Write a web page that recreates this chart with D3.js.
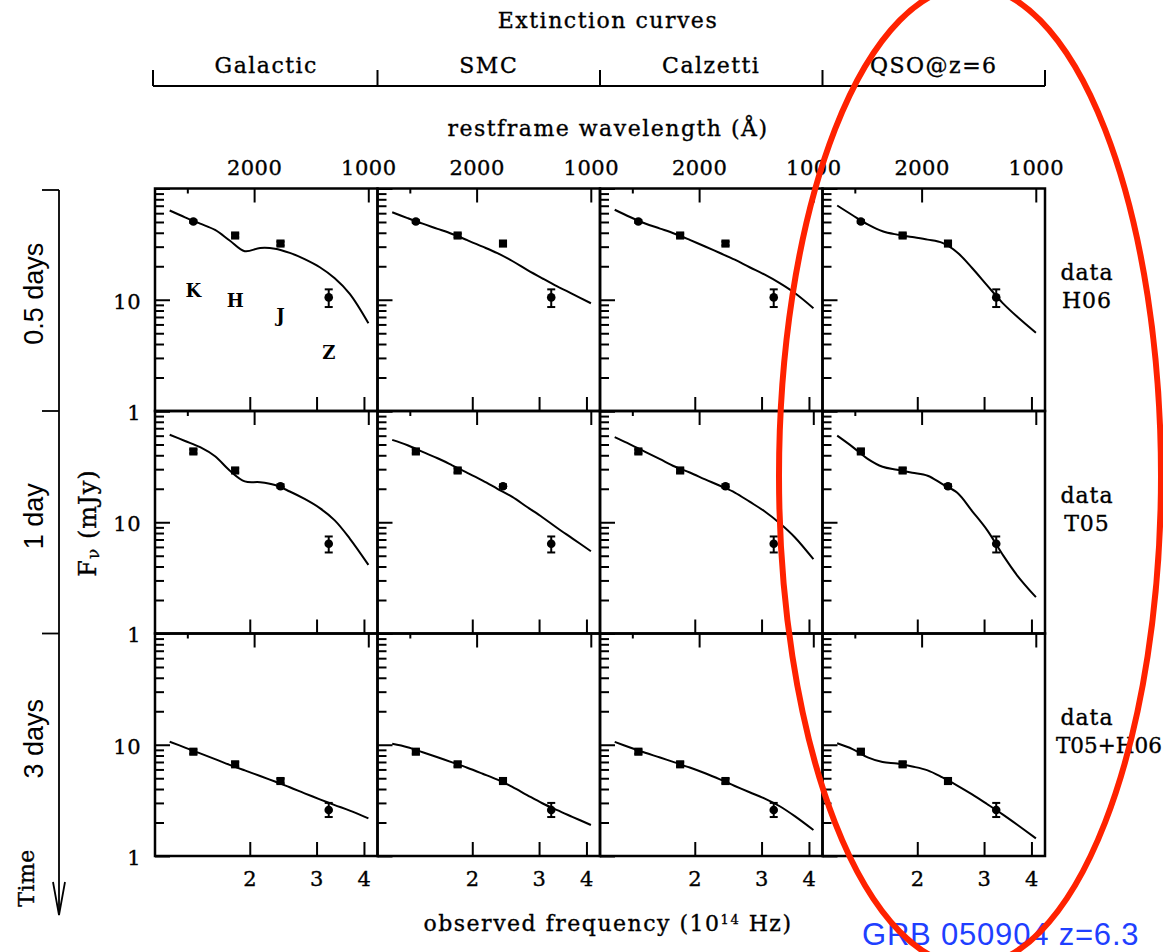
<!DOCTYPE html>
<html><head><meta charset="utf-8">
<script src="https://cdn.jsdelivr.net/npm/d3@7"></script>
<style>body{margin:0;background:#fff}svg{display:block}</style>
</head><body>
<svg id="chart" width="1163" height="952"></svg>
<script>
// ---------------- data ----------------
const extinctionLaws = ["Galactic", "SMC", "Calzetti", "QSO@z=6"];
const epochs = ["0.5 days", "1 day", "3 days"];
const dataSetLabels = [["data", "H06"], ["data", "T05"], ["data", "T05+H06"]];
const redshift = 6.3;

const bands = ["K", "H", "J", "Z"];
const bandFreq = [1.42, 1.83, 2.41, 3.23];           // 10^14 Hz
const bandLabelFlux = [10.6, 8.6, 6.3, 2.93];        // where the band letters sit (0.5 d, Galactic)

const obsFlux_05d = [50.5, 37.8, 32.0, 10.5];
const obsLo_05d   = [49.0, 36.4, 30.8, 8.6];
const obsHi_05d   = [52.0, 39.3, 33.3, 12.4];
const obsShape_05d = ["circle", "square", "square", "circle"];

const obsFlux_1d = [43.3, 29.2, 21.1, 6.40];
const obsLo_1d   = [41.6, 28.0, 20.4, 5.35];
const obsHi_1d   = [45.1, 30.5, 21.9, 7.45];
const obsShape_1d = ["square", "square", "circle", "circle"];

const obsFlux_3d = [8.66, 6.67, 4.72, 2.59];
const obsLo_3d   = [8.30, 6.38, 4.50, 2.24];
const obsHi_3d   = [9.05, 6.98, 4.96, 3.00];
const obsShape_3d = ["square", "square", "square", "circle"];

// model curves: flux (mJy) at modelFreq (10^14 Hz)
const modelFreq = [1.23, 1.35, 1.48, 1.62, 1.77, 1.94, 2.13, 2.33, 2.55, 2.79, 3.06, 3.35, 3.67, 4.11];

const model_05d_Galactic = [63.4, 55.1, 48.3, 42.4, 34.1, 27.3, 29.2, 28.8, 26.4, 23.2, 19.6, 15.6, 11.3, 6.15];
const model_05d_SMC      = [61.1, 54.2, 48.3, 43.4, 39.0, 34.3, 30.0, 26.2, 22.3, 18.6, 15.6, 13.2, 11.3, 9.3];
const model_05d_Calzetti = [64.4, 55.4, 48.5, 43.6, 39.2, 34.5, 30.1, 26.3, 22.9, 19.6, 16.8, 14.1, 11.5, 8.4];
const model_05d_QSO      = [70.3, 57.5, 47.6, 41.3, 38.5, 36.6, 34.7, 32.4, 26.6, 19.3, 13.4, 9.43, 7.03, 5.05];

const model_1d_Galactic  = [61.1, 53.8, 47.3, 39.2, 29.2, 23.3, 22.9, 21.6, 18.9, 16.2, 13.4, 10.4, 7.14, 4.14];
const model_1d_SMC       = [55.0, 49.2, 42.9, 37.6, 32.5, 27.8, 23.7, 20.0, 16.9, 13.7, 11.1, 8.88, 7.17, 5.49];
const model_1d_Calzetti  = [58.2, 50.2, 43.0, 36.9, 31.7, 28.0, 24.3, 21.3, 18.5, 15.3, 12.5, 9.80, 7.34, 4.65];
const model_1d_QSO       = [60.0, 47.6, 37.1, 31.5, 29.6, 27.9, 26.2, 22.0, 18.4, 12.6, 8.45, 5.18, 3.32, 2.12];

const model_3d_Galactic  = [10.65, 9.43, 8.36, 7.43, 6.60, 5.88, 5.24, 4.67, 4.15, 3.66, 3.23, 2.87, 2.56, 2.18];
const model_3d_SMC       = [10.2, 9.51, 8.57, 7.71, 6.94, 6.21, 5.49, 4.86, 4.18, 3.53, 2.98, 2.58, 2.25, 1.90];
const model_3d_Calzetti  = [10.6, 9.45, 8.48, 7.68, 6.94, 6.24, 5.54, 4.88, 4.26, 3.74, 3.28, 2.80, 2.28, 1.71];
const model_3d_QSO       = [10.3, 9.14, 7.71, 7.00, 6.77, 6.38, 5.89, 5.09, 4.30, 3.58, 2.92, 2.38, 1.91, 1.44];

// axes
const freqDomain = [1.125, 4.343];
const fluxDomain = [1, 100];
const freqTicks = [2, 3, 4];
const lambdaMajorTicks = [2000, 1000];
const lambdaMinorTicks = [3000];
const fluxMajorTicks = [1, 10, 100];
const fluxMinorTicks = [2, 3, 4, 5, 6, 7, 8, 9, 20, 30, 40, 50, 60, 70, 80, 90];
const fluxTickLabels = [1, 10];

// ---------------- assemble ----------------
const obsRows = [
  {flux: obsFlux_05d, lo: obsLo_05d, hi: obsHi_05d, shape: obsShape_05d},
  {flux: obsFlux_1d,  lo: obsLo_1d,  hi: obsHi_1d,  shape: obsShape_1d},
  {flux: obsFlux_3d,  lo: obsLo_3d,  hi: obsHi_3d,  shape: obsShape_3d}
];
const models = [
  [model_05d_Galactic, model_05d_SMC, model_05d_Calzetti, model_05d_QSO],
  [model_1d_Galactic,  model_1d_SMC,  model_1d_Calzetti,  model_1d_QSO],
  [model_3d_Galactic,  model_3d_SMC,  model_3d_Calzetti,  model_3d_QSO]
];

const SERIF = "'DejaVu Serif', serif";
const SANS = "'Liberation Sans', Arial, sans-serif";
const svg = d3.select("#chart");

const colBand = d3.scaleBand().domain(extinctionLaws).range([155, 1045]);
const rowBand = d3.scaleBand().domain(epochs).range([188.5, 856]);
const restLambda = f => 2.99792458e4 / (f * (1 + redshift)); // Angstrom, f in 1e14 Hz

function serifText(sel, size, spacing) {
  return sel.attr("font-family", SERIF).attr("font-size", size)
    .attr("letter-spacing", spacing).attr("fill", "#000")
    .attr("stroke", "#000").attr("stroke-width", 0.35);
}

function styleAxis(g, sw) {
  g.select(".domain").remove();
  g.selectAll(".tick line").attr("stroke", "#000").attr("stroke-width", sw);
  serifText(g.selectAll("text"), 21, 0.5);
}

epochs.forEach((ep, r) => {
  extinctionLaws.forEach((law, c) => {
    const L = colBand(law), W = colBand.bandwidth();
    const T = rowBand(ep), H = rowBand.bandwidth();
    const x = d3.scaleLog().domain(freqDomain).range([L, L + W]);
    const y = d3.scaleLog().domain(fluxDomain).range([T + H, T]);
    const xl = d3.scaleLog().domain(freqDomain.map(restLambda)).range([L, L + W]);
    const g = svg.append("g");

    // left ticks (inward)
    g.append("g").attr("transform", `translate(${L},0)`)
      .call(d3.axisRight(y).tickValues(fluxMinorTicks).tickSize(9).tickFormat(""))
      .call(a => styleAxis(a, 2));
    g.append("g").attr("transform", `translate(${L},0)`)
      .call(d3.axisRight(y).tickValues(fluxMajorTicks).tickSize(15).tickFormat(""))
      .call(a => styleAxis(a, 2));
    // bottom frequency ticks (inward)
    g.append("g").attr("transform", `translate(0,${T + H})`)
      .call(d3.axisTop(x).tickValues(freqTicks).tickSize(14).tickFormat(""))
      .call(a => styleAxis(a, 2));
    // top wavelength ticks (inward)
    g.append("g").attr("transform", `translate(0,${T})`)
      .call(d3.axisBottom(xl).tickValues(lambdaMajorTicks).tickSize(14).tickFormat(""))
      .call(a => styleAxis(a, 2));
    g.append("g").attr("transform", `translate(0,${T})`)
      .call(d3.axisBottom(xl).tickValues(lambdaMinorTicks).tickSize(5).tickFormat(""))
      .call(a => styleAxis(a, 2));

    // labels
    if (c === 0) {
      g.append("g").attr("transform", `translate(${L},0)`)
        .call(d3.axisLeft(y).tickValues(fluxTickLabels).tickSize(0).tickPadding(14).tickFormat(d3.format("d")))
        .call(a => styleAxis(a, 2))
        .selectAll("text").attr("dy", "0.4em");
    }
    if (r === 0) {
      g.append("g").attr("transform", `translate(0,${T})`)
        .call(d3.axisTop(xl).tickValues(lambdaMajorTicks).tickSize(0).tickPadding(14).tickFormat(d3.format("d")))
        .call(a => styleAxis(a, 2));
    }
    if (r === epochs.length - 1) {
      g.append("g").attr("transform", `translate(0,${T + H})`)
        .call(d3.axisBottom(x).tickValues(freqTicks).tickSize(0).tickPadding(15).tickFormat(d3.format("d")))
        .call(a => styleAxis(a, 2));
    }

    // model curve
    const pts = modelFreq.map((f, i) => [f, models[r][c][i]]);
    g.append("path").datum(pts)
      .attr("d", d3.line().x(d => x(d[0])).y(d => y(d[1])).curve(d3.curveCatmullRom.alpha(0.5)))
      .attr("fill", "none").attr("stroke", "#000").attr("stroke-width", 2);

    // observed points
    const o = obsRows[r];
    bandFreq.forEach((f, i) => {
      const cx = x(f);
      g.append("line").attr("x1", cx).attr("x2", cx).attr("y1", y(o.lo[i])).attr("y2", y(o.hi[i]))
        .attr("stroke", "#000").attr("stroke-width", 2);
      [o.lo[i], o.hi[i]].forEach(v => g.append("line")
        .attr("x1", cx - 4).attr("x2", cx + 4).attr("y1", y(v)).attr("y2", y(v))
        .attr("stroke", "#000").attr("stroke-width", 2));
      const sym = o.shape[i] === "circle" ? d3.symbolCircle : d3.symbolSquare;
      const size = o.shape[i] === "circle" ? 58 : 66;
      g.append("path").attr("d", d3.symbol(sym, size)())
        .attr("transform", `translate(${cx},${y(o.flux[i])})`).attr("fill", "#000");
    });

    // band letters in the first panel
    if (r === 0 && c === 0) {
      bands.forEach((b, i) => g.append("text").attr("x", x(bandFreq[i])).attr("y", y(bandLabelFlux[i]))
        .attr("text-anchor", "middle").attr("font-family", SERIF).attr("font-size", 18)
        .attr("font-weight", "bold").text(b));
    }

    // frame
    g.append("rect").attr("x", L).attr("y", T).attr("width", W).attr("height", H)
      .attr("fill", "none").attr("stroke", "#000").attr("stroke-width", 2.5);
  });

  // right-hand data-set labels
  const T = rowBand(ep);
  const lbl = dataSetLabels[r];
  serifText(svg.append("text").attr("x", 1087).attr("y", T + 91.5).attr("text-anchor", "middle"), 22, 1).text(lbl[0]);
  const second = serifText(svg.append("text").attr("y", T + 119.5), 22, 1).text(lbl[1]);
  if (lbl[1].length > 4) second.attr("x", 1056).attr("text-anchor", "start").attr("letter-spacing", 0).attr("font-size", 21.5);
  else second.attr("x", 1087).attr("text-anchor", "middle");

  // left epoch labels
  const cy = T + rowBand.bandwidth() / 2 - 6;
  svg.append("text").attr("transform", `translate(34,${cy}) rotate(-90)`)
    .attr("text-anchor", "middle").attr("dominant-baseline", "central")
    .attr("font-family", SANS).attr("font-size", 27).text(ep);
});

// time axis
const timeG = svg.append("g").attr("stroke", "#000").attr("stroke-width", 1.8).attr("fill", "none");
timeG.append("line").attr("x1", 59).attr("x2", 59).attr("y1", 190).attr("y2", 915);
epochs.forEach(ep => timeG.append("line").attr("x1", 42).attr("x2", 59)
  .attr("y1", Math.max(190, rowBand(ep))).attr("y2", Math.max(190, rowBand(ep))));
timeG.append("path").attr("d", "M53,882 L59,915 L65,882");
serifText(svg.append("text").attr("transform", "translate(26,878) rotate(-90)")
  .attr("text-anchor", "middle").attr("dominant-baseline", "central"), 22, 0.5).text("Time");

// y title
const yt = serifText(svg.append("text").attr("transform", "translate(88,523) rotate(-90)")
  .attr("text-anchor", "middle").attr("dominant-baseline", "central"), 24, 1);
yt.append("tspan").text("F");
yt.append("tspan").attr("baseline-shift", "-30%").attr("font-size", 17).text("ν");
yt.append("tspan").text(" (mJy)");

// header
serifText(svg.append("text").attr("x", 608).attr("y", 28).attr("text-anchor", "middle"), 22, 1.5).text("Extinction curves");
const bracket = svg.append("g").attr("stroke", "#000").attr("stroke-width", 2).attr("fill", "none");
bracket.append("line").attr("x1", 153).attr("x2", 1045).attr("y1", 86).attr("y2", 86);
extinctionLaws.forEach(law => {
  const x0 = colBand(law) === 155 ? 153 : colBand(law);
  bracket.append("line").attr("x1", x0).attr("x2", x0).attr("y1", 70).attr("y2", 86);
  serifText(svg.append("text").attr("x", colBand(law) + colBand.bandwidth() / 2).attr("y", 73)
    .attr("text-anchor", "middle"), 22, 1.5).text(law);
});
bracket.append("line").attr("x1", 1045).attr("x2", 1045).attr("y1", 70).attr("y2", 86);

serifText(svg.append("text").attr("x", 608).attr("y", 136).attr("text-anchor", "middle"), 22, 1.5)
  .text("restframe wavelength (Å)");

// x title
const xt = serifText(svg.append("text").attr("x", 608).attr("y", 931).attr("text-anchor", "middle"), 22, 1.5);
xt.append("tspan").text("observed frequency (10");
xt.append("tspan").attr("baseline-shift", "super").attr("font-size", 13).text("14");
xt.append("tspan").text(" Hz)");

// annotation
svg.append("text").attr("x", 862).attr("y", 945).attr("font-family", SANS)
  .attr("font-size", 31).attr("letter-spacing", 0.8).attr("fill", "#1f3fff").text("GRB 050904 z=6.3");
svg.append("ellipse").attr("cx", 970).attr("cy", 476).attr("rx", 191).attr("ry", 490)
  .attr("fill", "none").attr("stroke", "#ff2200").attr("stroke-width", 6);
</script>
</body></html>
